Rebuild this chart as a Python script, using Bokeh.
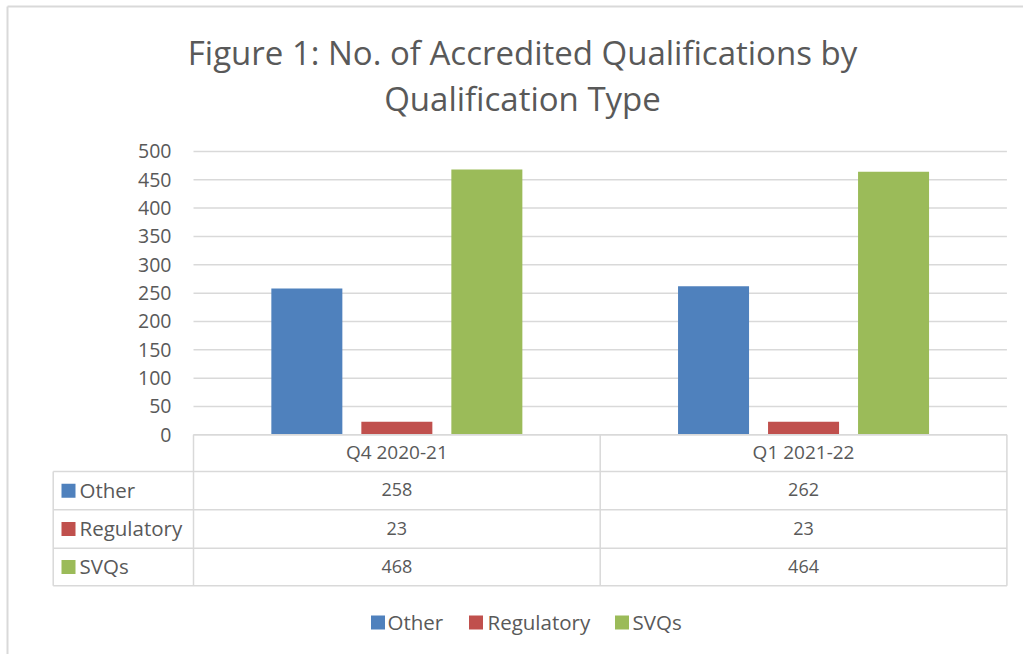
from bokeh.plotting import figure
from bokeh.models import Range1d
from bokeh.core.properties import value
from bokeh.embed import file_html
from bokeh.resources import INLINE

# ---------------- data ----------------
categories = ["Q4 2020-21", "Q1 2021-22"]
series_names = ["Other", "Regulatory", "SVQs"]
other = [258, 262]
regulatory = [23, 23]
svqs = [468, 464]
y_ticks = [0, 50, 100, 150, 200, 250, 300, 350, 400, 450, 500]
title_lines = ["Figure 1: No. of Accredited Qualifications by", "Qualification Type"]

series_values = [other, regulatory, svqs]
colors = ["#4F81BD", "#C0504D", "#9BBB59"]

# ---------------- layout (page pixels) ----------------
W, H = 1023, 654
X0_PAGE = 193.0      # left edge of first category
CAT_W = 406.7        # width of one category
Y0_PAGE = 434.3      # y of value 0
PX_PER_UNIT = 0.5667 # pixels per value unit
TXT = "#595959"
LINE = "#D9D9D9"
FONT = value("Open Sans")


def dx(page_x):
    return (page_x - X0_PAGE) / CAT_W


def dy(page_y):
    return (Y0_PAGE - page_y) / PX_PER_UNIT


p = figure(width=W, height=H, output_backend="svg", toolbar_location=None,
           x_range=Range1d(dx(0), dx(W)),
           y_range=Range1d(dy(H), dy(0)),
           x_axis_location=None, y_axis_location=None, min_border=0)
p.grid.visible = False
p.outline_line_color = None
p.background_fill_color = "white"
p.border_fill_color = "white"

n_cat = len(categories)

# chart border (left and top visible)
p.segment(x0=[dx(7), dx(7)], y0=[dy(6), dy(6)],
          x1=[dx(7), dx(W)], y1=[dy(H), dy(6)],
          line_color=LINE, line_width=2)

# gridlines
p.segment(x0=[0] * len(y_ticks), x1=[n_cat] * len(y_ticks), y0=y_ticks, y1=y_ticks,
          line_color=LINE, line_width=1.5)

# y tick labels
p.text(x=[dx(171)] * len(y_ticks), y=y_ticks, text=[str(t) for t in y_ticks],
       text_font=FONT, text_font_size="19.5px", text_color=TXT,
       text_align="right", text_baseline="middle")

# bars
bar_w = 0.1746
offs = [-0.2213, 0.0, 0.2213]
for vals, off, col in zip(series_values, offs, colors):
    p.vbar(x=[i + 0.5 + off for i in range(n_cat)], top=vals, bottom=0,
           width=bar_w, fill_color=col, line_color=None)

# title
for line, cy in zip(title_lines, [52, 98]):
    p.text(x=[dx(522)], y=[dy(cy)], text=[line], text_font=FONT,
           text_font_size="33px", text_color=TXT, text_align="center",
           text_baseline="middle")

# data table
row_lines = [471.0, 509.3, 547.7, 585.3]
tbl_left = 52.7
p.segment(x0=[0], x1=[n_cat], y0=[0], y1=[0], line_color=LINE, line_width=1.5)
p.segment(x0=[dx(tbl_left)] * len(row_lines), x1=[n_cat] * len(row_lines),
          y0=[dy(r) for r in row_lines], y1=[dy(r) for r in row_lines],
          line_color=LINE, line_width=1.5)
p.segment(x0=[dx(tbl_left)], x1=[dx(tbl_left)], y0=[dy(row_lines[0])], y1=[dy(row_lines[-1])],
          line_color=LINE, line_width=1.5)
p.segment(x0=list(range(n_cat + 1)), x1=list(range(n_cat + 1)),
          y0=[0] * (n_cat + 1), y1=[dy(row_lines[-1])] * (n_cat + 1),
          line_color=LINE, line_width=1.5)

# header
p.text(x=[i + 0.5 for i in range(n_cat)], y=[dy((Y0_PAGE + row_lines[0]) / 2 - 1)] * n_cat,
       text=categories, text_font=FONT, text_font_size="19px", text_color=TXT,
       text_align="center", text_baseline="middle")

# rows
for k, (name, vals, col) in enumerate(zip(series_names, series_values, colors)):
    ym = (row_lines[k] + row_lines[k + 1]) / 2
    p.scatter(x=[dx(68)], y=[dy(ym)], marker="square", size=14, fill_color=col, line_color=None)
    p.text(x=[dx(79)], y=[dy(ym - 1)], text=[name], text_font=FONT, text_font_size="20.5px",
           text_color=TXT, text_align="left", text_baseline="middle")
    p.text(x=[i + 0.5 for i in range(n_cat)], y=[dy(ym - 1)] * n_cat, text=[str(v) for v in vals],
           text_font=FONT, text_font_size="18px", text_color=TXT,
           text_align="center", text_baseline="middle")

# legend
leg_sq = [377.5, 475.5, 621.5]
leg_tx = [387, 487, 632]
for name, col, sx, tx in zip(series_names, colors, leg_sq, leg_tx):
    p.scatter(x=[dx(sx)], y=[dy(622)], marker="square", size=14, fill_color=col, line_color=None)
    p.text(x=[dx(tx)], y=[dy(621)], text=[name], text_font=FONT, text_font_size="20.5px",
           text_color=TXT, text_align="left", text_baseline="middle")

open("out.html", "w").write(file_html(p, INLINE))
